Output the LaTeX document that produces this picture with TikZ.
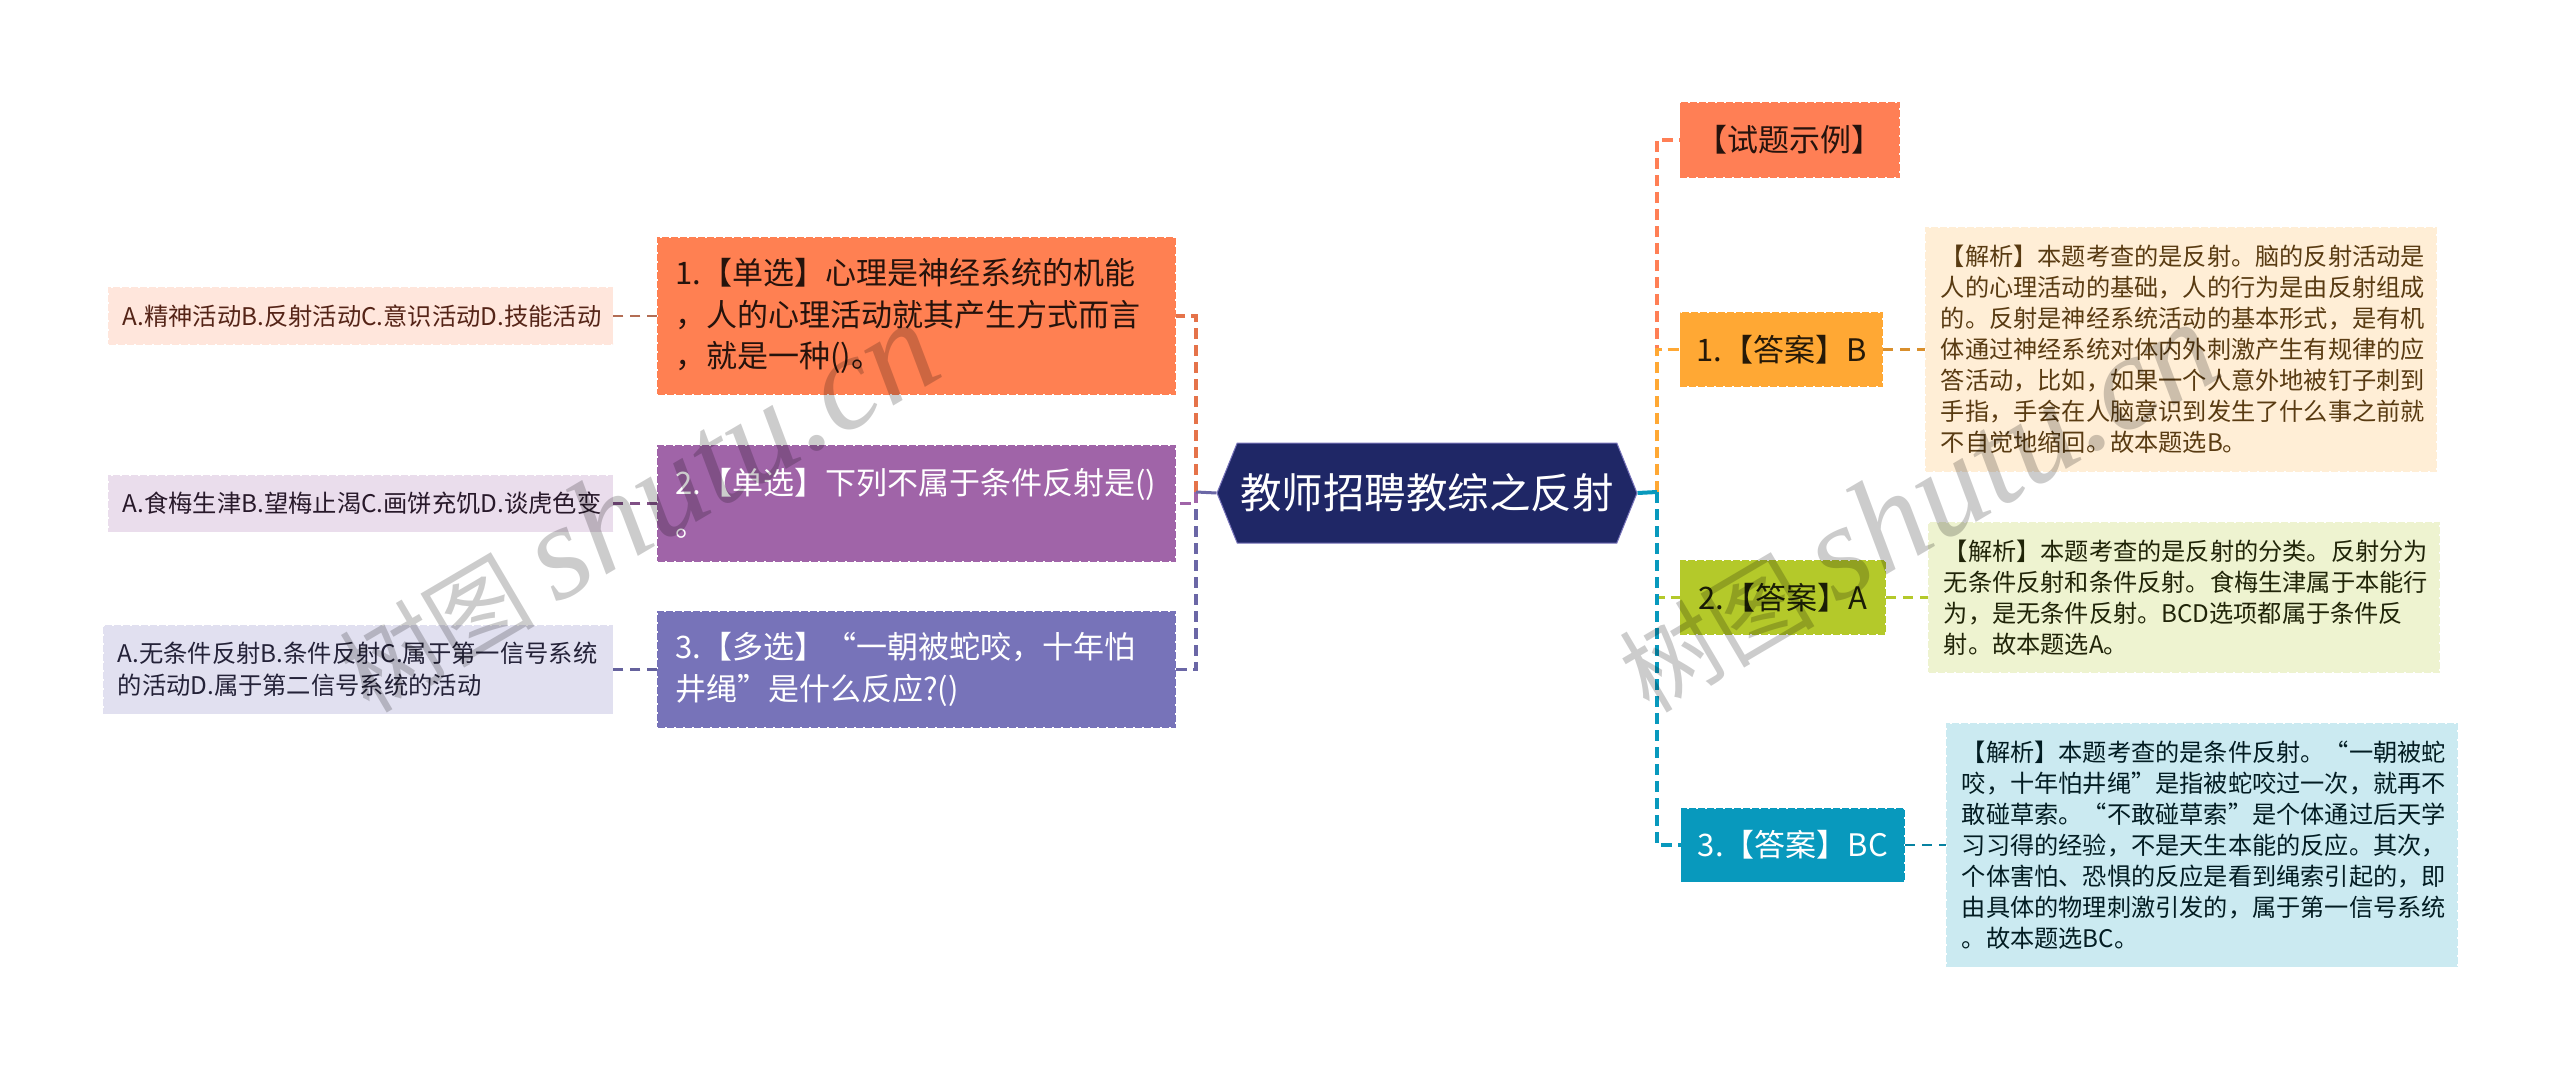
\documentclass[tikz,border=0pt]{standalone}
\usepackage{fontspec}
\setmainfont{Noto Sans CJK SC}
\newfontfamily\markfont{Liberation Serif}[ItalicFont=* Italic]
\usetikzlibrary{positioning,shapes.symbols}

\definecolor{rootblue}{HTML}{1F2766}
\definecolor{qorange}{HTML}{FF8052}
\definecolor{qpurple}{HTML}{A064A8}
\definecolor{qblue}{HTML}{7773B9}
\definecolor{tcoral}{HTML}{FF7F55}
\definecolor{aamber}{HTML}{FFA834}
\definecolor{alime}{HTML}{B4C92A}
\definecolor{ateal}{HTML}{0899BD}

\tikzset{
  fbox/.style={draw=#1, fill=#1, line width=1.5pt, dash pattern=on 7pt off 2pt},
  question/.style={fbox=#1, minimum width=517pt, minimum height=115pt, inner xsep=0pt, inner ysep=0pt,
    text width=483pt, align=left, font=\fontsize{31}{41.6}\selectfont},
  leaf/.style={fbox=#1, minimum height=56pt, inner xsep=0pt, inner ysep=0pt,
    align=left, font=\fontsize{24.3}{32}\selectfont},
  answer/.style={fbox=#1, minimum height=73pt, inner sep=0pt, align=center, font=\fontsize{31}{40}\selectfont},
  note/.style={fbox=#1, minimum width=510pt, inner xsep=0pt, inner ysep=0pt,
    text width=480pt, align=left, font=\fontsize{24.2}{31}\selectfont},
  stem/.style={draw=#1, line width=3.5pt, dash pattern=on 11pt off 6pt},
  twig/.style={draw=#1, line width=2.2pt, dash pattern=on 10pt off 7pt},
  watermark/.style={rotate=30.5, anchor=south west, inner sep=0pt, text=black, text opacity=0.2}
}

\begin{document}
\begin{tikzpicture}[x=1pt,y=-1pt]
  \useasboundingbox (0,0) rectangle (2560,1070);

  \node (root) [signal, signal to=west and east, signal pointer angle=136, fill=rootblue, draw=qblue, line width=1pt,
    minimum width=420pt, minimum height=100pt, inner xsep=0pt, inner ysep=0pt, text=white,
    font=\fontsize{41.5}{50}\selectfont] at (1427,493) {教师招聘教综之反射};

  \node (q1) [question=qorange, text=black!85!qorange, left=40.5pt of root.west, yshift=177pt, minimum height=156pt]
    {1.【单选】心理是神经系统的机能\\，人的心理活动就其产生方式而言\\，就是一种()。};
  \node (q2) [question=qpurple, text=white, left=40.5pt of root.west, yshift=-10.5pt]
    {2.【单选】下列不属于条件反射是()\\。};
  \node (q3) [question=qblue, text=white, left=40.5pt of root.west, yshift=-176.5pt]
    {3.【多选】“一朝被蛇咬，十年怕\\井绳”是什么反应?()};

  \node (o1) [leaf=qorange!20, text=qorange!30!black!95!red, minimum width=504pt, text width=476pt, left=44pt of q1]
    {A.精神活动B.反射活动C.意识活动D.技能活动};
  \node (o2) [leaf=qpurple!22, text=qpurple!25!black, minimum width=504pt, text width=476pt, left=44pt of q2]
    {A.食梅生津B.望梅止渴C.画饼充饥D.谈虎色变};
  \node (o3) [leaf=qblue!22, text=qblue!30!black, minimum width=509pt, text width=481pt, minimum height=88pt, left=44pt of q3]
    {A.无条件反射B.条件反射C.属于第一信号系统\\的活动D.属于第二信号系统的活动};

  \node (t0) [answer=tcoral, text=black!85!tcoral, minimum width=219pt, minimum height=74pt, right=42pt of root.east, yshift=353pt]
    {【试题示例】};
  \node (a1) [answer=aamber, text=black!85!aamber, minimum width=202pt, right=42pt of root.east, yshift=143.5pt]
    {1.【答案】B};
  \node (a2) [answer=alime, text=black!85!alime, minimum width=205pt, right=42pt of root.east, yshift=-104.5pt]
    {2.【答案】A};
  \node (a3) [answer=ateal, text=white, minimum width=223pt, right=42pt of root.east, xshift=1pt, yshift=-352pt]
    {3.【答案】BC};

  \node (n1) [note=aamber!20, text=aamber!35!black, minimum height=243pt, right=42pt of a1]
    {【解析】本题考查的是反射。脑的反射活动是\\
     人的心理活动的基础，人的行为是由反射组成\\
     的。反射是神经系统活动的基本形式，是有机\\
     体通过神经系统对体内外刺激产生有规律的应\\
     答活动，比如，如果一个人意外地被钉子刺到\\
     手指，手会在人脑意识到发生了什么事之前就\\
     不自觉地缩回。故本题选B。};
  \node (n2) [note=alime!22, text=alime!18!black, minimum height=149pt, right=42pt of a2]
    {【解析】本题考查的是反射的分类。反射分为\\
     无条件反射和条件反射。食梅生津属于本能行\\
     为，是无条件反射。BCD选项都属于条件反\\
     射。故本题选A。};
  \node (n3) [note=ateal!21, text=ateal!18!black, minimum height=243pt, right=41pt of a3]
    {【解析】本题考查的是条件反射。“一朝被蛇\\
     咬，十年怕井绳”是指被蛇咬过一次，就再不\\
     敢碰草索。“不敢碰草索”是个体通过后天学\\
     习习得的经验，不是天生本能的反应。其次，\\
     个体害怕、恐惧的反应是看到绳索引起的，即\\
     由具体的物理刺激引发的，属于第一信号系统\\
     。故本题选BC。};

  \coordinate (lstem) at (1196,492);
  \coordinate (rstem) at (1657,492);

  \draw [stem=qorange!90!black] (lstem) |- (q1.east);
  \draw [stem=qblue!90!black] (lstem) |- (q3.east);
  \draw [stem=qpurple] (lstem) |- (q2.east);
  \draw [draw=qblue!90!black, line width=3pt] (root.west) -- (lstem);

  \draw [stem=tcoral] (rstem) |- (t0.west);
  \draw [stem=aamber] (rstem) |- (a1.west);
  \draw [stem=alime] (rstem) |- (a2.west);
  \draw [stem=ateal] (rstem) |- (a3.west);
  \draw [draw=ateal, line width=4pt] (root.east) -- (rstem);

  \draw [twig=qorange!65!black!85] (q1) -- (o1);
  \draw [twig=qpurple!80!black] (q2) -- (o2);
  \draw [twig=qblue!85!black] (q3) -- (o3);
  \draw [twig=aamber!85!black] (a1) -- (n1);
  \draw [twig=alime] (a2) -- (n2);
  \draw [twig=ateal!85!black] (a3) -- (n3);

  \node (mark1) [watermark] at (373,722)
    {\fontsize{98}{98}\selectfont 树图 {\markfont\itshape\fontsize{135}{135}\selectfont shutu.cn}};
  \node (mark2) [watermark] at (1653,722)
    {\fontsize{98}{98}\selectfont 树图 {\markfont\itshape\fontsize{135}{135}\selectfont shutu.cn}};
\end{tikzpicture}
\end{document}
